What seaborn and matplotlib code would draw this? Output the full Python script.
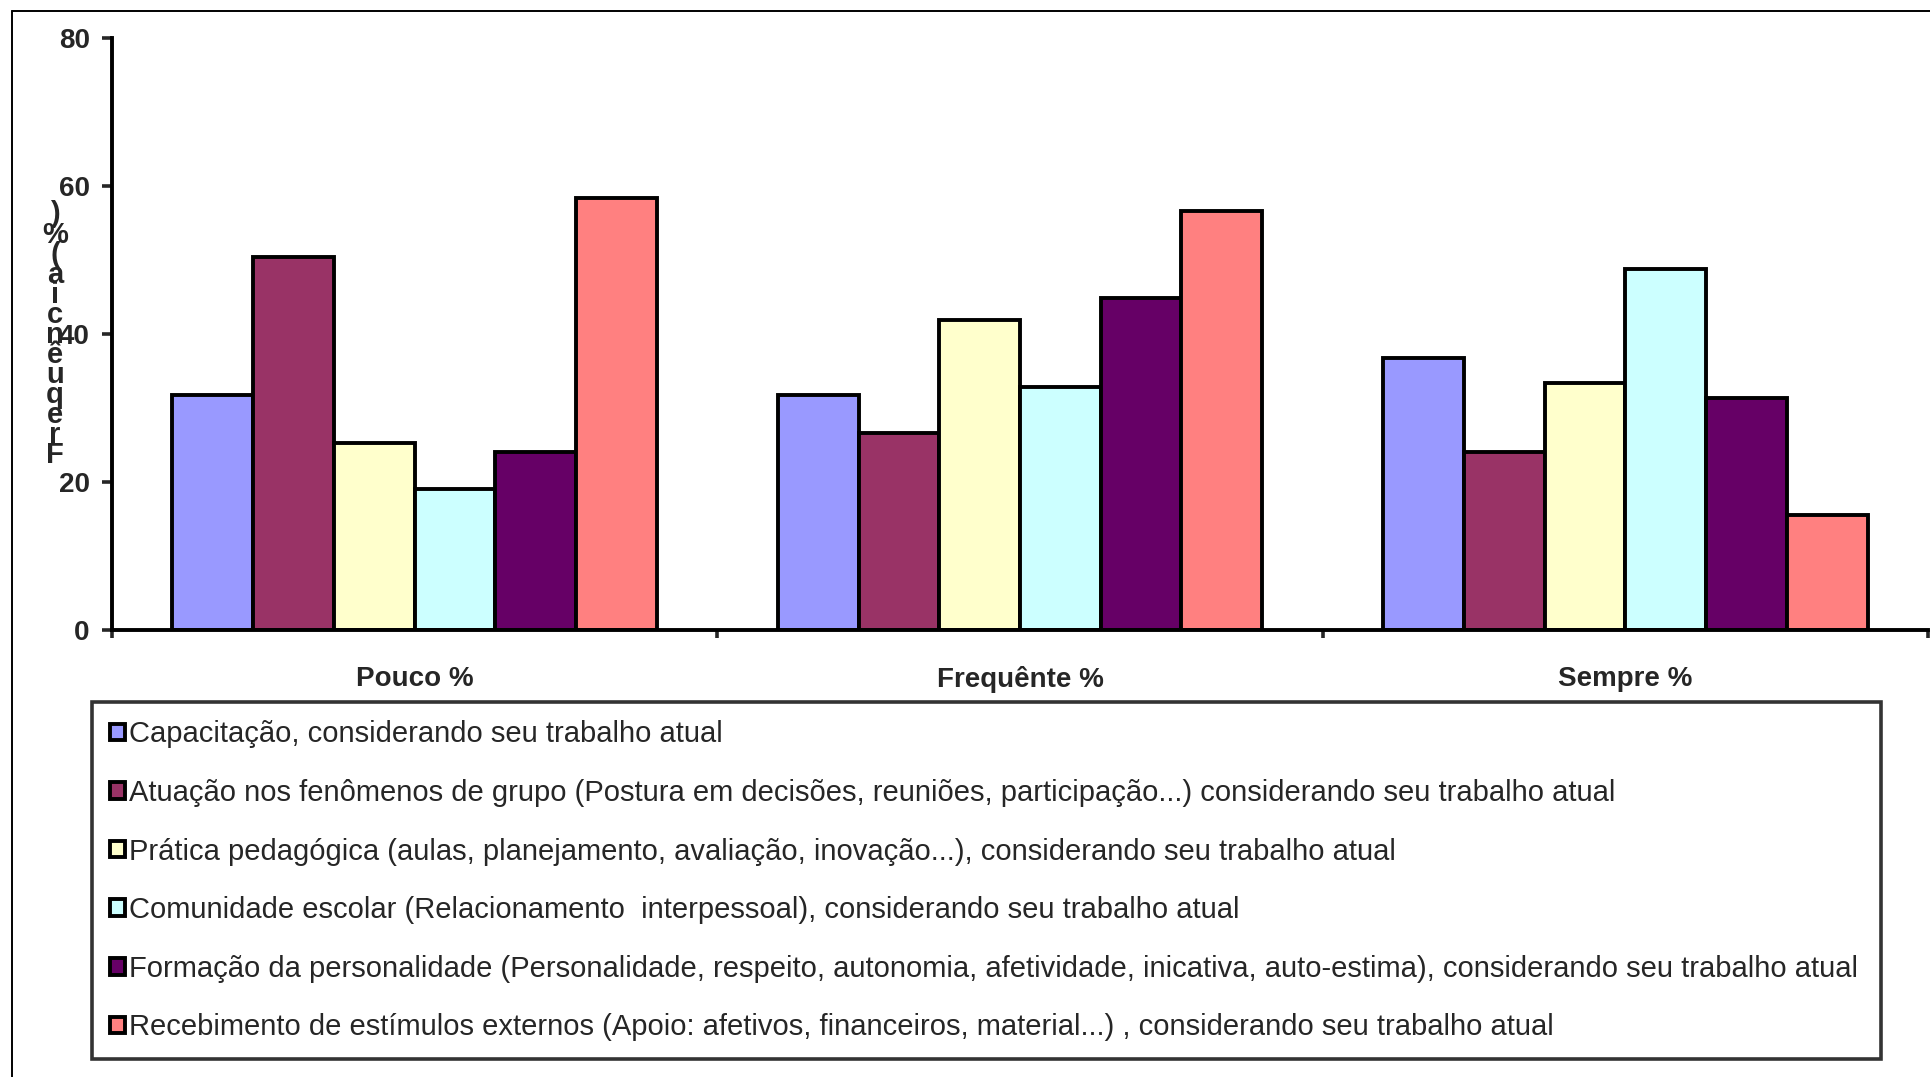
import matplotlib
matplotlib.use('Agg')
import matplotlib.pyplot as plt
from matplotlib.lines import Line2D
import seaborn as sns
import pandas as pd

categorias = ['Pouco %', 'Frequênte %', 'Sempre %']
series = [
    'Capacitação, considerando seu trabalho atual',
    'Atuação nos fenômenos de grupo (Postura em decisões, reuniões, participação...) considerando seu trabalho atual',
    'Prática pedagógica (aulas, planejamento, avaliação, inovação...), considerando seu trabalho atual',
    'Comunidade escolar (Relacionamento  interpessoal), considerando seu trabalho atual',
    'Formação da personalidade (Personalidade, respeito, autonomia, afetividade, inicativa, auto-estima), considerando seu trabalho atual',
    'Recebimento de estímulos externos (Apoio: afetivos, financeiros, material...) , considerando seu trabalho atual',
]
capacitacao = [31.8, 31.8, 36.8]
atuacao = [50.4, 26.6, 24.0]
pratica = [25.3, 41.9, 33.4]
comunidade = [19.1, 32.8, 48.8]
formacao = [24.0, 44.9, 31.4]
recebimento = [58.4, 56.6, 15.5]
cores = ['#9999FF', '#993366', '#FFFFCC', '#CCFFFF', '#660066', '#FF8080']
y_label = 'Frequência (%)'

valores = [capacitacao, atuacao, pratica, comunidade, formacao, recebimento]
rows = []
for nome, vals in zip(series, valores):
    for cat, v in zip(categorias, vals):
        rows.append({'categoria': cat, 'serie': nome, 'valor': v})
df = pd.DataFrame(rows)

sns.set_style('white')
plt.rcParams['font.family'] = ['Liberation Sans', 'DejaVu Sans']

fig = plt.figure(figsize=(19.3, 10.77), dpi=100)
ax = fig.add_axes([0.058, 0.415, 0.941, 0.5497])

sns.barplot(data=df, x='categoria', y='valor', hue='serie', hue_order=series,
            palette=cores, saturation=1, edgecolor='black', linewidth=2.8,
            width=0.8, errorbar=None, ax=ax)

ax.set_ylim(0, 80)
ax.set_yticks([0, 20, 40, 60, 80])
ax.set_xlim(-0.5, 2.5)
ax.set_xticks([-0.5, 0.5, 1.5, 2.5])
ax.set_xticklabels([])
ax.set_xticks([0, 1, 2], minor=True)
ax.set_xticklabels(categorias, minor=True, fontsize=20, fontweight='bold')
ax.tick_params(axis='x', which='minor', length=0, pad=26)
ax.tick_params(axis='x', which='major', length=6, width=2.6, direction='out', bottom=True)
ax.tick_params(axis='y', length=7, width=2.6, direction='out', left=True, pad=9)
for lab in ax.get_yticklabels():
    lab.set_fontsize(20)
    lab.set_fontweight('bold')
ax.set_xlabel('')
ax.set_ylabel('')
for s in ['top', 'right']:
    ax.spines[s].set_visible(False)
for s in ['left', 'bottom']:
    ax.spines[s].set_linewidth(2.8)
    ax.spines[s].set_color('black')

# stacked y label, characters upright and reversed as in the original
chars = [c for c in y_label if c != ' ']
fig.text(0.0285, 0.689, '\n'.join(reversed(chars)), fontsize=21, fontweight='bold',
         ha='center', va='center', multialignment='center', linespacing=0.64)

leg = ax.legend(loc='upper left', bbox_to_anchor=(0.0477, 0.0214, 0.927, 0.3266),
                bbox_transform=fig.transFigure, mode='expand', ncol=1,
                fontsize=21, frameon=True, fancybox=False,
                handlelength=0.5, handleheight=0.5, handletextpad=0.15,
                labelspacing=1.05, borderpad=0.62, borderaxespad=0)
leg.get_frame().set_edgecolor('black')
leg.get_frame().set_linewidth(2.6)

# outer chart border (only top and left visible)
bx = 12 / 1930
by = 1 - 11 / 1077
fig.add_artist(Line2D([bx, bx], [0, by], color='black', lw=1.4))
fig.add_artist(Line2D([bx, 1], [by, by], color='black', lw=1.4))

fig.savefig('out.png', dpi=100, facecolor='white')
